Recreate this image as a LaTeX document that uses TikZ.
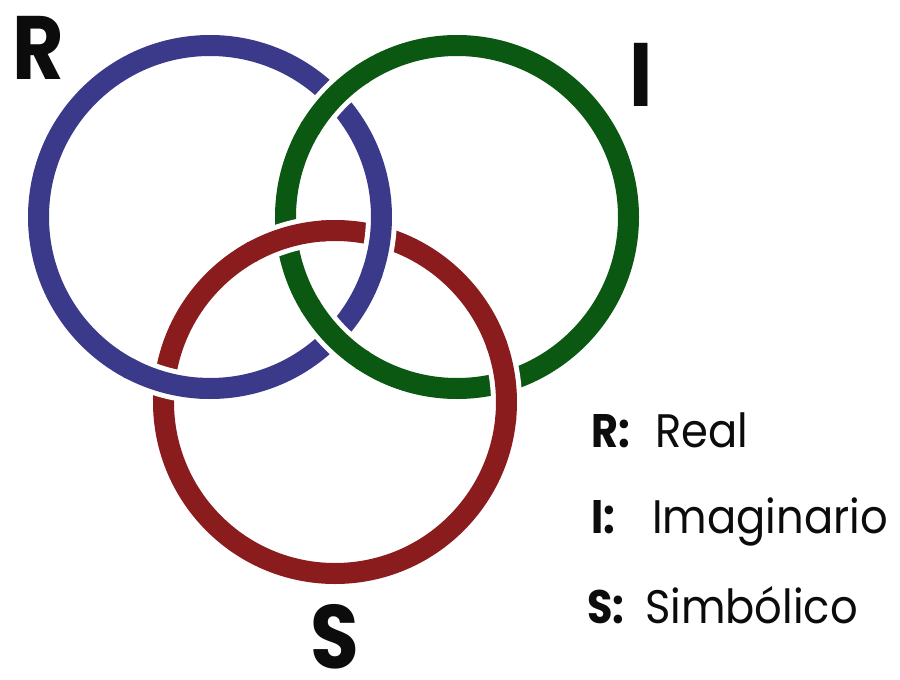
\documentclass[tikz,border=0pt]{standalone}
\usepackage{fontspec}
\setmainfont{Poppins}[FakeStretch=0.88]
\newfontfamily\keyfont{Poppins}[FakeStretch=0.92]
\definecolor{ringblue}{RGB}{58,57,138}
\definecolor{ringgreen}{RGB}{10,88,18}
\definecolor{ringred}{RGB}{138,28,30}
\definecolor{inkblack}{RGB}{12,12,12}
\begin{document}
\begin{tikzpicture}[x=1pt,y=-1pt,
  ring/.style={line width=21pt},
  halo/.style={line width=31pt, white},
  bigletter/.style={inner sep=0pt, text=inkblack, font=\fontsize{90}{90}\selectfont\bfseries},
  keylabel/.style={inner sep=0pt, anchor=base west, text=inkblack, font=\fontsize{47}{47}\selectfont\bfseries},
  keyword/.style={inner sep=0pt, anchor=base west, text=inkblack, font=\keyfont\fontsize{47}{47}\selectfont}]
\useasboundingbox[fill=white] (0,0) rectangle (900,680);
\def\rr{171.5}
\coordinate (cB) at (210,217);
\coordinate (cG) at (457,217);
\coordinate (cR) at (335,402);
% full rings
\draw[ring, ringblue] (cB) circle[radius=\rr];
\draw[ring, ringgreen] (cG) circle[radius=\rr];
\draw[ring, ringred] (cR) circle[radius=\rr];
% green over blue
\foreach \t in {-136.1,136.1}{
  \draw[halo] (cG) ++(\t-12:\rr) arc[start angle=\t-12, end angle=\t+12, radius=\rr];
  \draw[ring, ringgreen] (cG) ++(\t-13:\rr) arc[start angle=\t-13, end angle=\t+13, radius=\rr];
}
% red over green
\foreach \t in {-6.8,-106.4}{
  \draw[halo] (cR) ++(\t-12:\rr) arc[start angle=\t-12, end angle=\t+12, radius=\rr];
  \draw[ring, ringred] (cR) ++(\t-13:\rr) arc[start angle=\t-13, end angle=\t+13, radius=\rr];
}
% blue over red
\foreach \t in {6.6,105.4}{
  \draw[halo] (cB) ++(\t-12:\rr) arc[start angle=\t-12, end angle=\t+12, radius=\rr];
  \draw[ring, ringblue] (cB) ++(\t-13:\rr) arc[start angle=\t-13, end angle=\t+13, radius=\rr];
}
% big letters
\node[bigletter] (lR) at (38.5,47.5) {R};
\node[bigletter] (lI) at (641,74.5) {I};
\node[bigletter] (lS) at (335,637) {S};
% legend
\node[keylabel] (kR) at (591,447) {R:};
\node[keyword] (wR) at (655,447) {Real};
\node[keylabel] (kI) at (591,533) {I:};
\node[keyword] (wI) at (652,533) {Imaginario};
\node[keylabel] (kS) at (587,623) {S:};
\node[keyword] (wS) at (645,623) {Simbólico};
\end{tikzpicture}
\end{document}
